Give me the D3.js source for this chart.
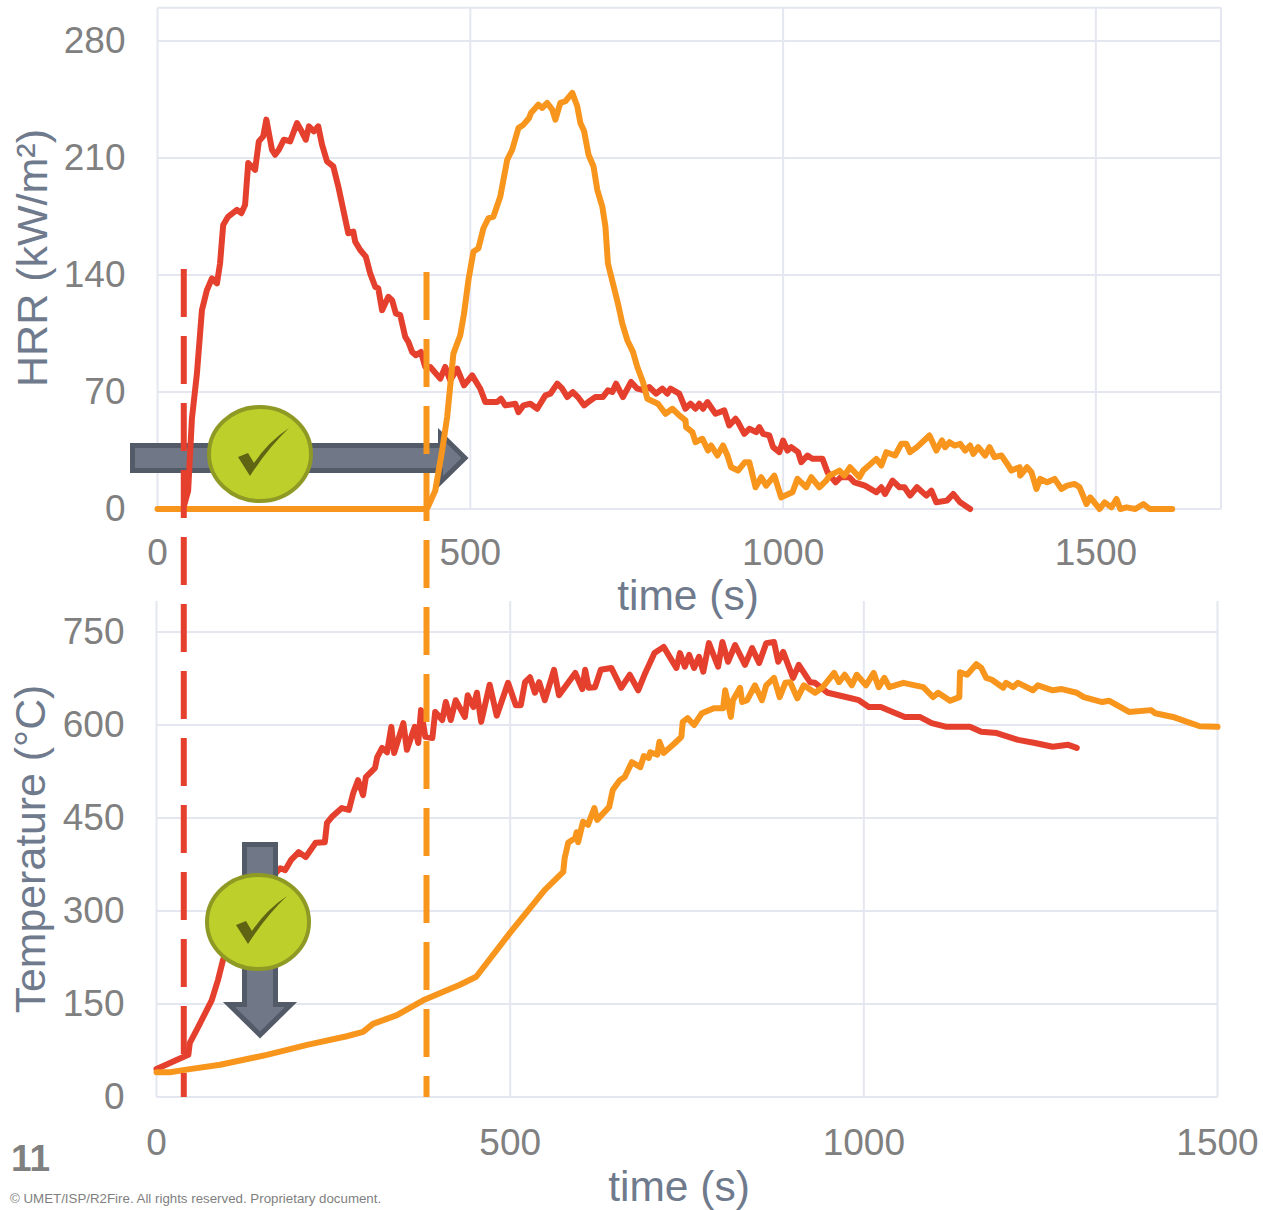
<!DOCTYPE html>
<html>
<head>
<meta charset="utf-8">
<title>HRR and temperature</title>
<script src="https://cdn.jsdelivr.net/npm/d3@7"></script>
<style>
  body { margin: 0; background: #fff; }
  text { font-family: "Liberation Sans", Arial, sans-serif; }
</style>
</head>
<body>
<svg id="svg1" width="1263" height="1210"></svg>
<script>
"use strict"

// ======================================================================
// data: [time (s), value]
const hrrRed = [[41,0],[49,11],[55,54],[63,81],[71,119],[79,131],[87,138],[95,135],[100,147],[105,170],[113,175],[127,179],[134,177],[140,182],[145,207],[156,203],[162,220],[169,223],[174,233],[178,225],[183,215],[188,212],[194,215],[202,221],[212,220],[223,231],[229,227],[237,221],[242,229],[250,226],[257,229],[263,218],[271,208],[281,205],[289,193],[297,179],[305,165],[313,166],[316,160],[324,155],[333,151],[340,141],[348,133],[353,132],[359,119],[369,127],[375,125],[381,117],[388,116],[396,103],[401,100],[407,94],[413,92],[421,94],[428,85],[436,85],[452,78],[460,85],[468,77],[479,84],[490,74],[503,80],[516,72],[524,64],[543,64],[549,66],[556,62],[572,63],[577,58],[585,62],[596,63],[607,60],[620,68],[628,69],[639,75],[647,72],[655,67],[664,70],[672,67],[682,62],[692,65],[700,67],[712,67],[720,71],[727,70],[733,75],[744,67],[757,76],[767,72],[778,71],[786,73],[797,69],[807,72],[815,69],[820,72],[834,69],[844,60],[852,63],[860,60],[866,63],[872,60],[879,64],[892,57],[906,59],[914,50],[924,54],[928,52],[938,45],[946,48],[957,46],[962,49],[968,45],[978,44],[984,37],[994,34],[1000,41],[1007,35],[1013,37],[1024,34],[1029,28],[1039,32],[1047,30],[1063,30],[1071,22],[1084,16],[1092,19],[1106,19],[1114,16],[1131,14],[1149,10],[1157,13],[1163,9],[1175,17],[1186,13],[1194,13],[1203,8],[1214,13],[1229,8],[1237,11],[1245,4],[1262,5],[1272,9],[1283,4],[1299,0]];

const hrrOrange = [[0,0],[429,0],[432,1],[444,11],[455,35],[463,55],[473,93],[484,104],[490,117],[497,137],[505,154],[513,156],[521,168],[529,174],[537,175],[548,187],[553,197],[559,209],[567,215],[577,228],[585,230],[594,234],[597,237],[609,242],[615,240],[623,243],[631,239],[636,233],[644,243],[652,244],[663,249],[671,241],[676,231],[682,226],[689,212],[697,205],[703,191],[711,181],[716,169],[720,147],[728,135],[736,123],[743,111],[751,101],[760,94],[767,85],[776,76],[783,66],[800,63],[812,57],[823,60],[834,56],[844,53],[845,49],[855,46],[860,40],[871,42],[880,35],[885,38],[895,32],[904,38],[911,32],[917,25],[928,23],[939,28],[946,28],[956,13],[965,19],[973,14],[986,20],[997,7],[1015,10],[1023,18],[1037,13],[1045,19],[1058,13],[1069,17],[1074,20],[1090,23],[1098,20],[1107,25],[1122,19],[1128,23],[1149,30],[1157,26],[1165,34],[1179,32],[1189,39],[1197,39],[1203,34],[1214,37],[1234,44],[1245,35],[1254,41],[1259,37],[1266,40],[1274,38],[1283,39],[1291,35],[1299,38],[1304,33],[1312,37],[1323,32],[1330,37],[1338,31],[1349,32],[1360,26],[1365,23],[1378,25],[1379,20],[1390,25],[1397,22],[1405,12],[1411,18],[1422,16],[1434,18],[1445,12],[1454,14],[1466,15],[1474,13],[1485,3],[1491,7],[1506,0],[1514,4],[1525,1],[1533,6],[1539,0],[1549,1],[1563,0],[1576,3],[1586,0],[1622,0]];

const tempRed = [[0,45],[45,68],[47,87],[59,113],[78,156],[87,189],[94,221],[118,285],[146,334],[175,369],[182,366],[190,382],[201,395],[211,387],[225,410],[238,411],[241,442],[248,452],[262,466],[272,463],[278,490],[285,511],[292,487],[296,516],[309,531],[312,548],[319,563],[326,556],[332,597],[336,555],[349,603],[354,560],[365,597],[370,571],[374,624],[380,581],[390,579],[394,621],[404,608],[409,637],[416,608],[423,640],[436,613],[440,648],[448,629],[453,652],[459,605],[471,665],[481,615],[497,668],[508,632],[515,632],[521,669],[528,677],[535,652],[541,669],[549,640],[562,689],[569,648],[592,684],[602,658],[606,689],[611,660],[620,661],[628,689],[643,692],[657,660],[669,681],[681,656],[691,684],[704,716],[717,726],[735,692],[740,716],[747,694],[753,713],[760,692],[767,710],[773,686],[781,732],[794,694],[800,734],[808,702],[818,729],[832,697],[842,724],[852,700],[862,732],[873,734],[879,702],[886,718],[900,676],[908,697],[924,669],[931,668],[949,652],[979,644],[993,640],[1007,629],[1024,629],[1045,619],[1058,613],[1079,613],[1096,603],[1117,597],[1139,597],[1150,597],[1166,589],[1188,587],[1218,576],[1242,571],[1267,565],[1289,568],[1301,563]];

const tempOrange = [[0,40],[19,40],[47,45],[90,52],[156,68],[213,84],[269,98],[292,105],[306,118],[340,132],[377,156],[429,181],[452,194],[500,265],[549,334],[575,363],[577,385],[582,410],[592,418],[594,427],[596,411],[603,444],[610,439],[619,466],[623,447],[640,468],[645,495],[655,511],[662,516],[672,540],[684,532],[689,550],[696,547],[698,556],[708,552],[711,573],[717,555],[733,571],[742,581],[744,605],[751,611],[760,600],[771,619],[788,627],[801,627],[804,656],[812,613],[815,640],[825,660],[828,637],[835,640],[846,664],[856,640],[862,664],[873,676],[881,645],[889,668],[896,669],[906,643],[915,664],[931,652],[941,660],[958,684],[965,669],[973,681],[983,664],[990,681],[1003,664],[1014,684],[1021,661],[1029,676],[1036,661],[1056,668],[1084,661],[1098,645],[1105,652],[1122,639],[1135,645],[1136,685],[1146,681],[1159,698],[1166,692],[1173,676],[1181,673],[1197,660],[1201,668],[1211,661],[1218,668],[1239,656],[1246,664],[1267,656],[1280,658],[1301,652],[1311,645],[1337,637],[1347,639],[1375,621],[1406,624],[1412,619],[1437,613],[1457,605],[1475,598],[1500,597]];

const hrrTicks = [0, 70, 140, 210, 280];
const tempTicks = [0, 150, 300, 450, 600, 750];
const timeTicksTop = [0, 500, 1000, 1500];
const timeTicksBottom = [0, 500, 1000, 1500];
// time the red and orange samples ignite, on the top time axis
const ignitionTimes = [{t: 42, colour: "#e5402e", top: 269}, {t: 430, colour: "#f8951d", top: 272}];

const gridColour = "#e4e7f0";
const tickColour = "#808080";
const titleColour = "#6f7a8c";
const red = "#e5402e";
const orange = "#f8951d";

// ======================================================================
const svg = d3.select("#svg1");

// scales
const xTop = d3.scaleLinear().domain([0, 1700]).range([157.5, 1221]);
const yTop = d3.scaleLinear().domain([0, 300]).range([509, 7.7]);
const xBottom = d3.scaleLinear().domain([0, 1500]).range([156.5, 1217.5]);
const yBottom = d3.scaleLinear().domain([0, 800]).range([1097, 601]);

// grid and tick labels for one panel
function drawAxes(x, y, xTicks, yTicks, labelY) {
  let g = svg.append("g");

  let yAxis = g.append("g")
    .attr("transform", `translate(${x.range()[0]},0)`)
    .call(d3.axisLeft(y).tickValues(yTicks).tickFormat(d3.format("d")).offset(0)
      .tickSize(-(x.range()[1] - x.range()[0])).tickPadding(32));
  let xAxis = g.append("g")
    .attr("transform", `translate(0,${y.range()[0]})`)
    .call(d3.axisBottom(x).tickValues(xTicks).tickFormat(d3.format("d")).offset(0)
      .tickSize(-(y.range()[0] - y.range()[1])).tickPadding(labelY));

  [yAxis, xAxis].forEach(a => {
    a.select(".domain").remove();
    a.selectAll(".tick line").attr("stroke", gridColour).attr("stroke-width", 2);
    a.selectAll(".tick text")
      .attr("fill", tickColour)
      .style("font-size", "37px")
      .style("font-family", '"Liberation Sans", Arial, sans-serif');
  });
}

drawAxes(xTop, yTop, timeTicksTop, hrrTicks, 30);
drawAxes(xBottom, yBottom, timeTicksBottom, tempTicks, 32);

// frame lines of the top panel (left/bottom come from the ticks)
svg.append("line").attr("x1", xTop(0)).attr("x2", xTop(1700)).attr("y1", yTop(300)).attr("y2", yTop(300))
  .attr("stroke", gridColour).attr("stroke-width", 2);
svg.append("line").attr("x1", xTop(1700)).attr("x2", xTop(1700)).attr("y1", yTop(300)).attr("y2", yTop(0))
  .attr("stroke", gridColour).attr("stroke-width", 2);

// ======================================================================
// axis titles
function title(txt, x, y, size, rotate) {
  svg.append("text")
    .attr("transform", `translate(${x},${y})` + (rotate ? " rotate(-90)" : ""))
    .attr("text-anchor", "middle")
    .attr("fill", titleColour)
    .style("font-size", size + "px")
    .text(txt);
}
title("time (s)", 688, 610, 42.5, false);
title("time (s)", 679, 1201, 42.5, false);
title("HRR (kW/m²)", 47, 258, 43, true);
title("Temperature (°C)", 45, 849, 42.8, true);

// ======================================================================
// arrows and check discs, drawn in page pixels as they are just annotations
function arrow(points) {
  svg.append("polygon")
    .attr("points", points)
    .attr("fill", "#707888")
    .attr("stroke", "#535a68")
    .attr("stroke-width", 5);
}

function checkDisc(cx, cy) {
  let g = svg.append("g").attr("transform", `translate(${cx},${cy})`);
  g.append("ellipse")
    .attr("rx", 51).attr("ry", 47)
    .attr("fill", "#bdcf2b")
    .attr("stroke", "#8f9a25")
    .attr("stroke-width", 4);
  g.append("path")
    .attr("d", "M-22,3 L-12,-1 L-6,9 Q8,-12 29,-26 Q8,-6 -10,22 Z")
    .attr("fill", "#5f6414");
}

// ======================================================================
// curves
const lineTop = d3.line().x(d => xTop(d[0])).y(d => yTop(d[1]));
const lineBottom = d3.line().x(d => xBottom(d[0])).y(d => yBottom(d[1]));

function curve(data, gen, colour) {
  svg.append("path")
    .datum(data)
    .attr("d", gen)
    .attr("fill", "none")
    .attr("stroke", colour)
    .attr("stroke-width", 6)
    .attr("stroke-linejoin", "round")
    .attr("stroke-linecap", "round");
}

// top arrow sits under the HRR curves
arrow("132.5,445.5 440.5,445.5 440.5,434 465,458 440.5,482 440.5,470.5 132.5,470.5");

curve(hrrRed, lineTop, red);
curve(hrrOrange, lineTop, orange);
curve(tempRed, lineBottom, red);
curve(tempOrange, lineBottom, orange);

// dashed ignition lines run through both panels
ignitionTimes.forEach(d => {
  svg.append("line")
    .attr("x1", xTop(d.t)).attr("x2", xTop(d.t))
    .attr("y1", d.top).attr("y2", yBottom(0))
    .attr("stroke", d.colour)
    .attr("stroke-width", 6)
    .attr("stroke-dasharray", "48 19");
});

checkDisc(260, 454);

// bottom arrow covers the temperature curve
arrow("244.5,844.5 275.5,844.5 275.5,1004.5 291,1004.5 260,1035 229,1004.5 244.5,1004.5");
checkDisc(258, 922);

// ======================================================================
// page number and footer
svg.append("text")
  .attr("x", 11).attr("y", 1171)
  .attr("fill", tickColour)
  .style("font-size", "37px")
  .style("font-weight", "bold")
  .text("11");

svg.append("text")
  .attr("x", 10).attr("y", 1203)
  .attr("fill", "#7f7f7f")
  .style("font-size", "13.3px")
  .text("© UMET/ISP/R2Fire. All rights reserved. Proprietary document.");
</script>
</body>
</html>
